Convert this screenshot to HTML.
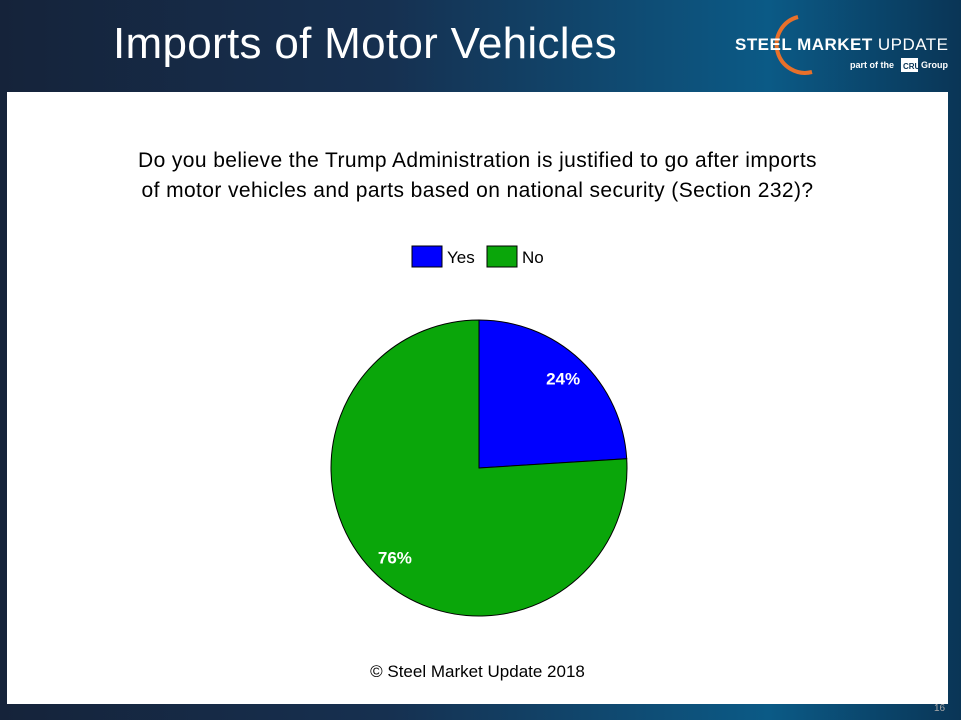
<!DOCTYPE html>
<html><head><meta charset="utf-8"><style>
body{margin:0;width:961px;height:720px;overflow:hidden;font-family:"Liberation Sans",sans-serif}
#bg{position:absolute;left:0;top:0;width:961px;height:720px;background:linear-gradient(90deg,#15233a 0%,#163050 40%,#0b5a86 80%,#0a3556 100%)}
#panel{position:absolute;left:7px;top:92px;width:941px;height:612px;background:#fff}
#title{position:absolute;left:113px;top:19px;color:#fff;font-size:44px;letter-spacing:0.3px}
.t{position:absolute;text-align:center}
</style></head><body>
<div id="bg"></div>
<div id="title">Imports of Motor Vehicles</div>
<svg style="position:absolute;left:720px;top:0" width="241" height="92">
<path d="M78 17 A28 28 0 1 0 92 72" fill="none" stroke="#e8702a" stroke-width="4"/>
<text x="15" y="50" fill="#fff" font-size="17" font-weight="bold" textLength="213">STEEL MARKET <tspan font-weight="normal">UPDATE</tspan></text>
<text x="130" y="68" fill="#fff" font-size="9" font-weight="bold">part of the</text>
<rect x="181" y="58" width="17" height="14" fill="#fff"/>
<text x="183" y="69" fill="#0a3556" font-size="8" font-weight="bold">CRU</text>
<text x="201" y="68" fill="#fff" font-size="9" font-weight="bold">Group</text>
</svg>
<div id="panel"></div>
<div class="t" style="width:941px;left:7px;top:146px;font-size:21px;letter-spacing:0.4px;line-height:30px;color:#000">Do you believe the Trump Administration is justified to go after imports<br>of motor vehicles and parts based on national security (Section 232)?</div>
<svg id="chart" style="position:absolute;left:0;top:0" width="961" height="720"></svg>
<div class="t" style="left:7px;width:941px;top:662px;font-size:17px">© Steel Market Update 2018</div>
<div style="position:absolute;left:934px;top:703px;color:#aaa;font-size:10px">16</div>
<script>
const categories=["Yes","No"];
const values=[24,76];
const colors=["#0000ff","#0aa60a"];
const svg=document.getElementById('chart');
const NS="http://www.w3.org/2000/svg";
const cx=479,cy=468,r=148;
const total=values.reduce((a,b)=>a+b,0);
function pt(f,rr){const a=f*2*Math.PI;return [cx+rr*Math.sin(a),cy-rr*Math.cos(a)];}
let acc=0;
values.forEach((v,i)=>{
 const f0=acc/total,f1=(acc+v)/total;acc+=v;
 const [x0,y0]=pt(f0,r),[x1,y1]=pt(f1,r);
 const p=document.createElementNS(NS,'path');
 p.setAttribute('d',`M${cx} ${cy} L${x0} ${y0} A${r} ${r} 0 ${f1-f0>0.5?1:0} 1 ${x1} ${y1} Z`);
 p.setAttribute('fill',colors[i]);p.setAttribute('stroke','#000');p.setAttribute('stroke-width','1');
 
 
 svg.appendChild(p);
 const [lx,ly]=pt((f0+f1)/2,r*0.83);
 const t=document.createElementNS(NS,'text');
 t.setAttribute('x',lx);t.setAttribute('y',ly+6);t.setAttribute('text-anchor','middle');
 t.setAttribute('fill','#fff');t.setAttribute('font-size','17');t.setAttribute('font-weight','bold');
 t.setAttribute('font-family','Liberation Sans, sans-serif');
 t.textContent=v+'%';
 
 
 svg.appendChild(t);
});
const lxs=[412,487];
categories.forEach((c,i)=>{
 const g=document.createElementNS(NS,'g');
 
 
 const rc=document.createElementNS(NS,'rect');
 rc.setAttribute('x',lxs[i]);rc.setAttribute('y',246);rc.setAttribute('width',30);rc.setAttribute('height',21);
 rc.setAttribute('fill',colors[i]);rc.setAttribute('stroke','#000');
 g.appendChild(rc);
 const t=document.createElementNS(NS,'text');
 t.setAttribute('x',lxs[i]+35);t.setAttribute('y',263);t.setAttribute('font-size','17');
 t.setAttribute('font-family','Liberation Sans, sans-serif');
 t.textContent=c;g.appendChild(t);
 svg.appendChild(g);
});
</script>
</body></html>
